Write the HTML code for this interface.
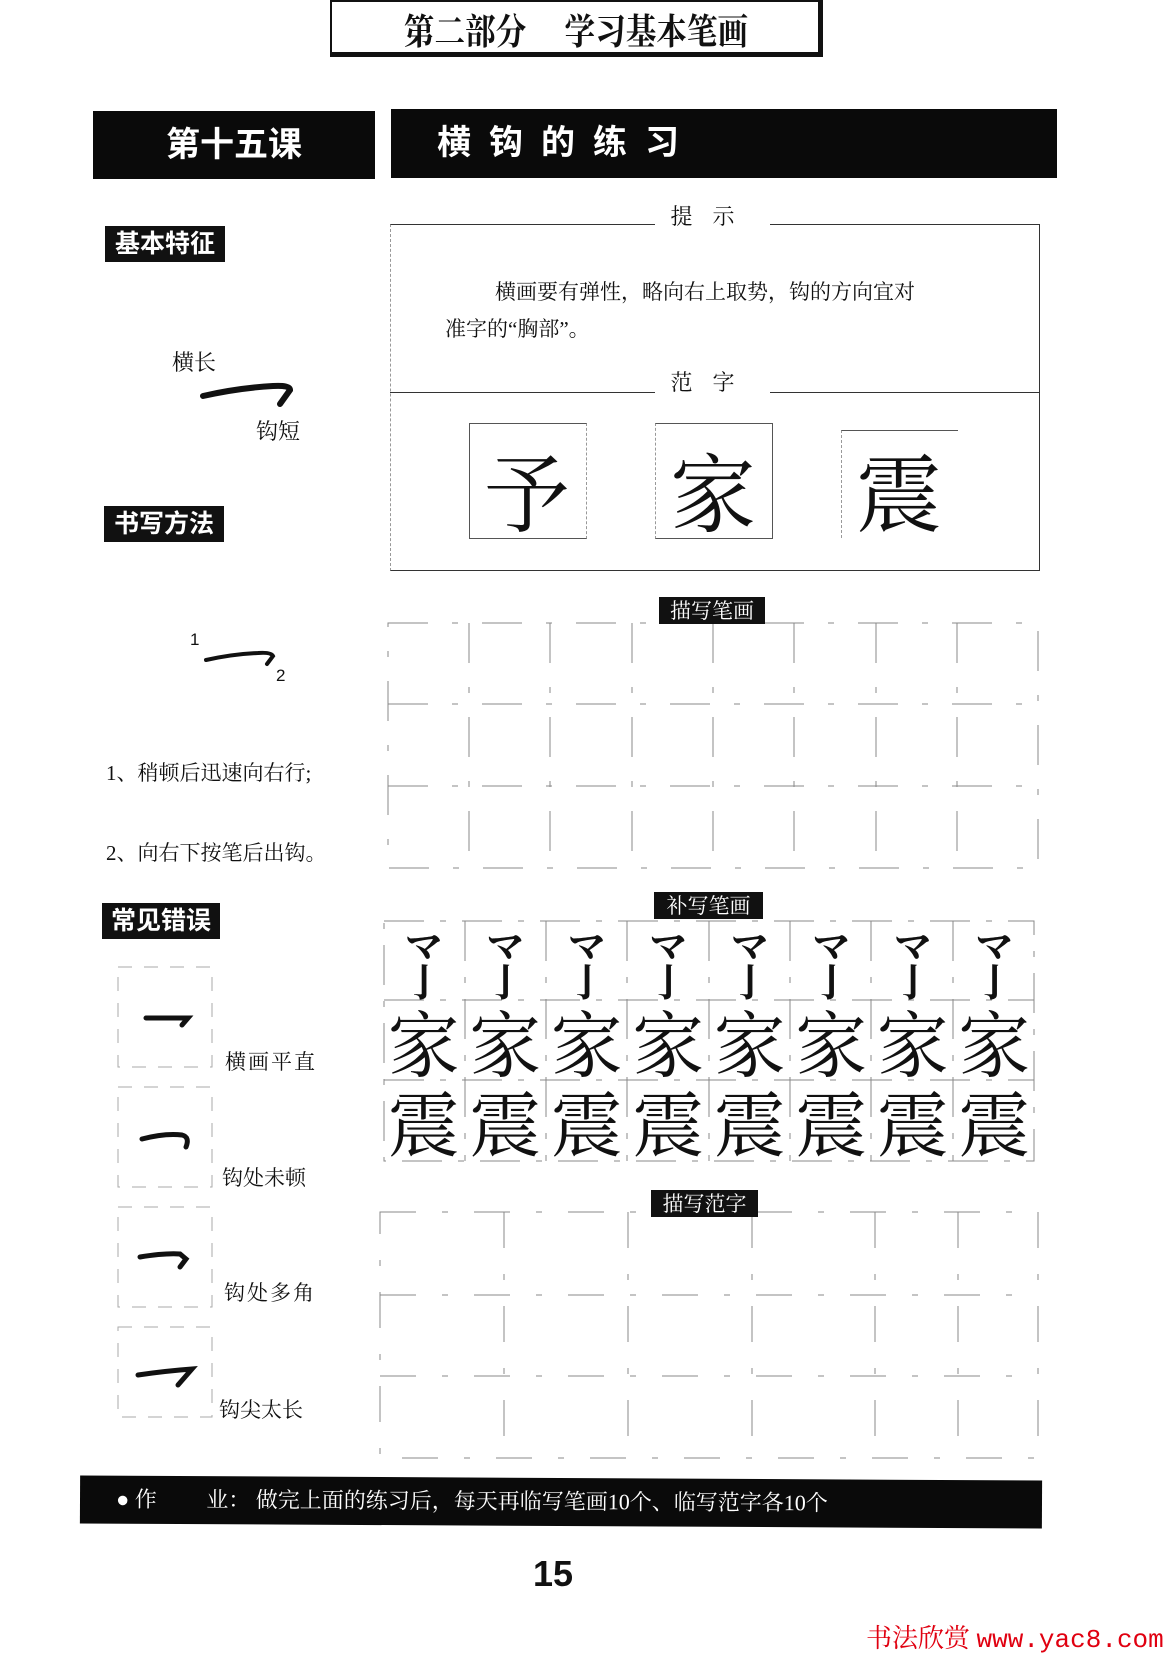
<!DOCTYPE html>
<html><head><meta charset="utf-8"><style>
body{margin:0;background:#fff;}
#p{position:relative;width:1172px;height:1663px;overflow:hidden;background:#fff;font-family:"Liberation Serif","Noto Serif CJK SC",serif;color:#111;}
.a{position:absolute;white-space:nowrap;}
.bk{position:absolute;background:#0a0a0a;color:#fff;font-family:"Liberation Sans","Noto Sans CJK SC",sans-serif;font-weight:bold;}
.lab{position:absolute;background:#111;color:#fff;font-family:"Liberation Sans","Noto Sans CJK SC",sans-serif;font-weight:bold;font-size:25px;line-height:36px;text-align:center;}
.sl{position:absolute;background:#111;color:#fff;font-family:"Noto Serif CJK SC",serif;font-size:21px;line-height:27px;text-align:center;}
.ch{position:absolute;font-family:"Noto Serif CJK SC",serif;text-align:center;}
</style></head><body><div id="p">
<div class="a" style="left:330px;top:0;width:486px;height:50px;border:2px solid #111;border-right:5px solid #111;border-bottom:5px solid #111;"></div>
<div class="a" style="left:330px;top:4px;width:492px;text-align:center;font-size:36px;font-weight:bold;font-family:'Noto Serif CJK SC',serif;transform:scaleX(0.85);">第二部分　 学习基本笔画</div>

<div class="bk" style="left:93px;top:111px;width:282px;height:68px;font-size:34px;line-height:68px;text-align:center;">第十五课</div>
<div class="bk" style="left:391px;top:109px;width:666px;height:69px;font-size:34px;line-height:69px;padding-left:46px;box-sizing:border-box;letter-spacing:18px;">横钩的练习</div>

<div class="lab" style="left:105px;top:226px;width:120px;">基本特征</div>
<div class="lab" style="left:104px;top:506px;width:120px;">书写方法</div>
<div class="lab" style="left:102px;top:903px;width:118px;">常见错误</div>

<div class="a" style="left:172px;top:346px;font-size:22px;">横长</div>
<svg class="a" style="left:198px;top:380px" width="100" height="30"><path d="M5 16 Q40 8 75 6 Q92 5 92 10 L82 24" stroke="#111" stroke-width="6" fill="none" stroke-linecap="round"/></svg>
<div class="a" style="left:256px;top:415px;font-size:22px;">钩短</div>

<div class="a" style="left:390px;top:224px;width:648px;height:345px;border:1px solid #333;border-left:1px dashed #999;"></div>
<div class="a" style="left:390px;top:392px;width:650px;border-top:1px solid #333;"></div>
<div class="a" style="left:655px;top:200px;width:115px;background:#fff;text-align:center;font-size:22px;letter-spacing:20px;">提示</div>
<div class="a" style="left:655px;top:366px;width:115px;background:#fff;text-align:center;font-size:22px;letter-spacing:20px;">范字</div>
<div class="a" style="left:495px;top:276px;font-size:21px;">横画要有弹性，略向右上取势，钩的方向宜对</div>
<div class="a" style="left:445px;top:313px;font-size:21px;">准字的“胸部”。</div>
<div class="a" style="left:469px;top:423px;width:116px;height:114px;border:1px solid #555;border-right:1px dashed #999;"></div>
<div class="a" style="left:655px;top:423px;width:116px;height:114px;border:1px solid #555;border-left:1px dashed #999;"></div>
<div class="a" style="left:841px;top:430px;width:116px;height:107px;border-top:1px solid #555;border-left:1px dashed #999;"></div>
<div class="ch" style="left:469px;top:426px;width:116px;font-size:86px;">予</div>
<div class="ch" style="left:655px;top:426px;width:116px;font-size:86px;">家</div>
<div class="ch" style="left:841px;top:426px;width:116px;font-size:86px;">震</div>

<div class="a" style="left:190px;top:630px;font-size:17px;font-family:'Liberation Sans',sans-serif;">1</div>
<svg class="a" style="left:203px;top:648px" width="80" height="22"><path d="M3 12 Q30 6 55 5 Q68 4 70 8 L64 16" stroke="#111" stroke-width="4" fill="none" stroke-linecap="round"/></svg>
<div class="a" style="left:276px;top:666px;font-size:17px;font-family:'Liberation Sans',sans-serif;">2</div>
<div class="a" style="left:106px;top:757px;font-size:21px;">1、稍顿后迅速向右行;</div>
<div class="a" style="left:106px;top:837px;font-size:21px;">2、向右下按笔后出钩。</div>

<svg class="a" style="left:110px;top:965px" width="110" height="480">
<g stroke="#aaa" stroke-width="1" stroke-dasharray="14 12" fill="none">
<rect x="8" y="2" width="94" height="100"/><rect x="8" y="122" width="94" height="100"/><rect x="8" y="242" width="94" height="100"/><rect x="8" y="362" width="94" height="90"/></g>
<g stroke="#111" stroke-width="5" fill="none" stroke-linecap="round">
<path d="M36 53 L78 53 L72 60"/>
<path d="M32 174 Q55 168 72 170 Q80 172 76 182"/>
<path d="M30 292 Q55 288 70 289 L76 294 L70 302"/>
<path d="M28 410 Q55 406 82 404 L68 420"/></g></svg>
<div class="a" style="left:225px;top:1046px;font-size:21px;letter-spacing:2px;">横画平直</div>
<div class="a" style="left:222px;top:1162px;font-size:21px;">钩处未顿</div>
<div class="a" style="left:224px;top:1277px;font-size:21px;letter-spacing:2px;">钩处多角</div>
<div class="a" style="left:219px;top:1394px;font-size:21px;">钩尖太长</div>

<svg class="a" style="left:386px;top:622px" width="656" height="250">
<g stroke="#888" stroke-width="1" stroke-dasharray="40 24 6 24" fill="none">
<rect x="2" y="1" width="650" height="245"/>
<line x1="2" y1="82" x2="652" y2="82"/><line x1="2" y1="164" x2="652" y2="164"/>
<line x1="83" y1="1" x2="83" y2="246"/><line x1="164" y1="1" x2="164" y2="246"/><line x1="246" y1="1" x2="246" y2="246"/><line x1="327" y1="1" x2="327" y2="246"/><line x1="408" y1="1" x2="408" y2="246"/><line x1="490" y1="1" x2="490" y2="246"/><line x1="571" y1="1" x2="571" y2="246"/>
</g></svg>
<div class="sl" style="left:659px;top:597px;width:106px;">描写笔画</div>

<svg class="a" style="left:383px;top:920px" width="656" height="245">
<g stroke="#888" stroke-width="1" stroke-dasharray="40 16 6 16" fill="none">
<rect x="1" y="1" width="650" height="240"/>
<line x1="1" y1="80" x2="651" y2="80"/><line x1="1" y1="160" x2="651" y2="160"/>
<line x1="82" y1="1" x2="82" y2="241"/><line x1="163" y1="1" x2="163" y2="241"/><line x1="244" y1="1" x2="244" y2="241"/><line x1="326" y1="1" x2="326" y2="241"/><line x1="407" y1="1" x2="407" y2="241"/><line x1="488" y1="1" x2="488" y2="241"/><line x1="570" y1="1" x2="570" y2="241"/>
</g></svg>
<div class="sl" style="left:654px;top:892px;width:109px;">补写笔画</div>

<svg class="a" style="left:378px;top:1210px" width="664" height="252">
<g stroke="#888" stroke-width="1" stroke-dasharray="36 26 6 26" fill="none">
<rect x="2" y="2" width="658" height="246"/>
<line x1="2" y1="85" x2="660" y2="85"/><line x1="2" y1="166" x2="660" y2="166"/>
<line x1="250" y1="2" x2="250" y2="248"/><line x1="497" y1="2" x2="497" y2="248"/>
<line x1="126" y1="2" x2="126" y2="248"/><line x1="374" y1="2" x2="374" y2="248"/><line x1="580" y1="2" x2="580" y2="248"/>
</g></svg>
<div class="sl" style="left:651px;top:1190px;width:107px;">描写范字</div>

<div class="a" style="left:80px;top:1478px;width:962px;height:48px;background:#0a0a0a;color:#fff;font-size:22px;line-height:48px;transform:rotate(0.3deg);">
<span style="margin-left:36px;font-family:'Liberation Sans',sans-serif;">●</span> 作　　 业：&nbsp;做完上面的练习后，每天再临写笔画10个、临写范字各10个</div>

<div class="a" style="left:533px;top:1553px;font-size:36px;font-weight:bold;font-family:'Liberation Sans',sans-serif;">15</div>
<div class="a" style="left:866px;top:1618px;font-size:26px;color:#e00010;font-family:'Liberation Serif','Noto Serif CJK SC',serif;">书法欣赏 <span style="font-family:'Liberation Mono',monospace;">www.yac8.com</span></div>

<div class="ch" style="left:383px;top:926px;width:652px;font-size:0;">
<div style="display:flex;font-weight:bold;">
<span style="width:81.5px;font-size:38px;line-height:36px;">マ<br>亅</span><span style="width:81.5px;font-size:38px;line-height:36px;">マ<br>亅</span><span style="width:81.5px;font-size:38px;line-height:36px;">マ<br>亅</span><span style="width:81.5px;font-size:38px;line-height:36px;">マ<br>亅</span><span style="width:81.5px;font-size:38px;line-height:36px;">マ<br>亅</span><span style="width:81.5px;font-size:38px;line-height:36px;">マ<br>亅</span><span style="width:81.5px;font-size:38px;line-height:36px;">マ<br>亅</span><span style="width:81.5px;font-size:38px;line-height:36px;">マ<br>亅</span>
</div>
<div style="display:flex;margin-top:2px;font-size:72px;line-height:80px;"><span style="width:81.5px">家</span><span style="width:81.5px">家</span><span style="width:81.5px">家</span><span style="width:81.5px">家</span><span style="width:81.5px">家</span><span style="width:81.5px">家</span><span style="width:81.5px">家</span><span style="width:81.5px">家</span></div>
<div style="display:flex;font-size:72px;line-height:80px;"><span style="width:81.5px">震</span><span style="width:81.5px">震</span><span style="width:81.5px">震</span><span style="width:81.5px">震</span><span style="width:81.5px">震</span><span style="width:81.5px">震</span><span style="width:81.5px">震</span><span style="width:81.5px">震</span></div>
</div>
</div></body></html>
